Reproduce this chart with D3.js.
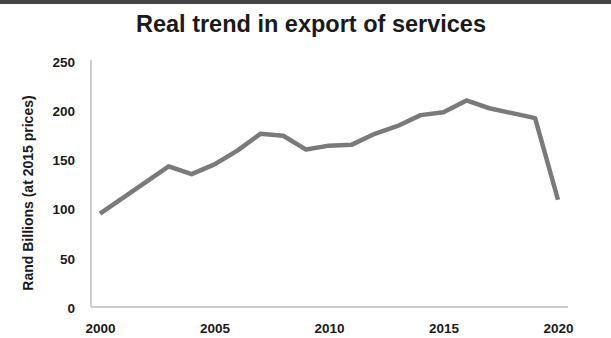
<!DOCTYPE html>
<html>
<head>
<meta charset="utf-8">
<script src="https://cdn.jsdelivr.net/npm/d3@7"></script>
<style>
  body { margin: 0; background: #fff; }
  svg { display: block; font-family: "Liberation Sans", Arial, sans-serif; }
</style>
</head>
<body>
<div id="chart"></div>
<script>
const w = 611;
const h = 338;

const years = [2000, 2001, 2002, 2003, 2004, 2005, 2006, 2007, 2008, 2009, 2010,
               2011, 2012, 2013, 2014, 2015, 2016, 2017, 2018, 2019, 2020];
const exports = [96, 112, 128, 144, 136, 146, 160, 177, 175, 161, 165,
                 166, 177, 185, 196, 199, 211, 203, 198, 193, 110];
const xTicks = [2000, 2005, 2010, 2015, 2020];
const yTicks = [0, 50, 100, 150, 200, 250];

const svg = d3.select("#chart")
    .append("svg")
    .attr("width", w)
    .attr("height", h);

// dark strip at the very top
svg.append("rect")
    .attr("x", 0).attr("y", 0)
    .attr("width", w).attr("height", 4)
    .attr("fill", "#444");

svg.append("text")
    .attr("x", 311)
    .attr("y", 32)
    .attr("text-anchor", "middle")
    .attr("font-size", 23.5)
    .attr("font-weight", "bold")
    .attr("fill", "#1a1a1a")
    .text("Real trend in export of services");

let xScale = d3.scaleLinear()
    .domain([2000, 2020])
    .range([100, 558]);

let yScale = d3.scaleLinear()
    .domain([0, 250])
    .range([308, 62]);

const axisX = 91;
const axisY = 307;

// axis lines
svg.append("line")
    .attr("x1", axisX).attr("x2", axisX)
    .attr("y1", yScale(250) - 2).attr("y2", axisY)
    .attr("stroke", "#bdbdbd").attr("stroke-width", 1.5);
svg.append("line")
    .attr("x1", axisX).attr("x2", xScale(2020) + 10)
    .attr("y1", axisY).attr("y2", axisY)
    .attr("stroke", "#bdbdbd").attr("stroke-width", 1.5);

let yAxis = d3.axisLeft(yScale)
    .tickValues(yTicks)
    .tickSize(0)
    .tickPadding(16);

let xAxis = d3.axisBottom(xScale)
    .tickValues(xTicks)
    .tickFormat(d3.format("d"))
    .tickSize(0)
    .tickPadding(16);

const gy = svg.append("g")
    .attr("transform", "translate(" + axisX + ",0)")
    .call(yAxis);
const gx = svg.append("g")
    .attr("transform", "translate(0," + axisY + ")")
    .call(xAxis);

[gx, gy].forEach(g => {
    g.select(".domain").remove();
    g.selectAll("text")
        .attr("font-size", 13.5)
        .attr("font-weight", "bold")
        .attr("fill", "#1a1a1a")
        .attr("font-family", "'Liberation Sans', Arial, sans-serif");
});

svg.append("text")
    .attr("transform", "translate(33,193) rotate(-90)")
    .attr("text-anchor", "middle")
    .attr("font-size", 14)
    .attr("font-weight", "bold")
    .attr("fill", "#1a1a1a")
    .text("Rand Billions (at 2015 prices)");

let line = d3.line()
    .x((d, i) => xScale(years[i]))
    .y(d => yScale(d));

svg.append("path")
    .datum(exports)
    .attr("d", line)
    .attr("fill", "none")
    .attr("stroke", "#7a7a7a")
    .attr("stroke-width", 4.5)
    .attr("stroke-linejoin", "round");
</script>
</body>
</html>
